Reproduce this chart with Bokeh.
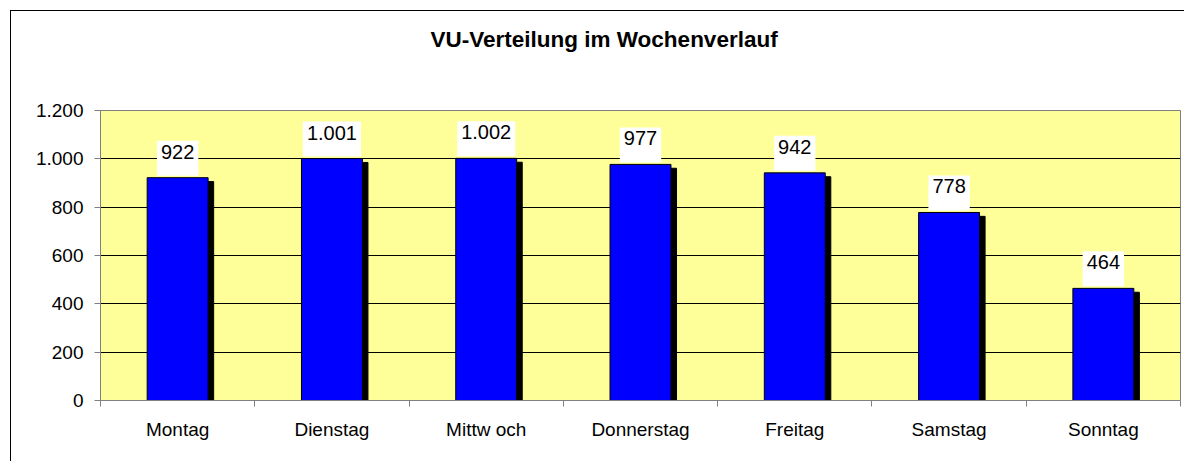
from bokeh.plotting import figure
from bokeh.models import ColumnDataSource, FixedTicker, Label, Range1d, Title, InlineStyleSheet
from bokeh.embed import file_html
from bokeh.resources import INLINE

# ---- data ----
chart_title = "VU-Verteilung im Wochenverlauf"
days = ["Montag", "Dienstag", "Mittw och", "Donnerstag", "Freitag", "Samstag", "Sonntag"]
values = [922, 1001, 1002, 977, 942, 778, 464]
value_labels = ["922", "1.001", "1.002", "977", "942", "778", "464"]
y_ticks = [0, 200, 400, 600, 800, 1000, 1200]
y_tick_labels = ["0", "200", "400", "600", "800", "1.000", "1.200"]

FONT = "Liberation Sans"
BAR_W = 0.395
SH_DX = 0.036   # shadow offset (category units)
SH_DY = 16      # shadow drop (value units)

xs = [i + 0.5 for i in range(len(days))]
src = ColumnDataSource(dict(
    x=xs, v=values, lab=value_labels,
    xsh=[x + SH_DX for x in xs], vsh=[v - SH_DY for v in values],
))

p = figure(width=1184, height=461,
           x_range=Range1d(0, len(days)), y_range=Range1d(y_ticks[0], y_ticks[-1]),
           output_backend="svg", toolbar_location=None,
           min_border_left=100, min_border_right=4, min_border_top=110, min_border_bottom=61)

# outer chart border (top and left edges visible, like the cropped original)
p.stylesheets = [InlineStyleSheet(css=(
    ":host { position: relative; }\n"
    ":host::after { content: ''; position: absolute; left: 10px; top: 10px; right: 0; bottom: 0;"
    " border-left: 1px solid #000; border-top: 1px solid #000; pointer-events: none; z-index: 100; }"
))]
p.border_fill_color = "white"
p.background_fill_color = "#FFFF99"
p.outline_line_color = "#808080"

# title: spacer nearest the frame, then the title text
p.title = None
p.add_layout(Title(text=" ", text_font_size="10px", standoff=41), "above")
p.add_layout(Title(text=chart_title, align="left", offset=330, text_font=FONT,
                   text_font_size="22.5px", text_font_style="bold", text_color="black"), "above")

# bars
p.vbar(x="xsh", top="vsh", width=BAR_W, fill_color="black", line_color="black", source=src)
p.vbar(x="x", top="v", width=BAR_W, fill_color="#0000FF", line_color="black", line_width=1, source=src)

# value labels
for x, v, lab in zip(xs, values, value_labels):
    p.add_layout(Label(x=x, y=v, text=lab, text_align="center", text_baseline="bottom",
                       y_offset=2, text_font=FONT, text_font_size="20px", text_color="black",
                       background_fill_color="white", padding=(4, 4, 4, 17)))

# x axis
p.xaxis.ticker = FixedTicker(ticks=xs, minor_ticks=list(range(len(days) + 1)))
p.xaxis.major_label_overrides = {x: d for x, d in zip(xs, days)}
p.xaxis.major_tick_out = 0
p.xaxis.major_tick_in = 0
p.xaxis.minor_tick_out = 6
p.xaxis.minor_tick_in = 0
p.xaxis.minor_tick_line_color = "#808080"
p.xaxis.axis_line_color = "#808080"
p.xaxis.major_label_standoff = 12
p.xaxis.major_label_text_font = FONT
p.xaxis.major_label_text_font_size = "19px"
p.xaxis.major_label_text_color = "black"
p.xgrid.visible = False

# y axis
p.yaxis.ticker = FixedTicker(ticks=y_ticks)
p.yaxis.major_label_overrides = {t: l for t, l in zip(y_ticks, y_tick_labels)}
p.yaxis.minor_tick_line_color = None
p.yaxis.major_tick_out = 6
p.yaxis.major_tick_in = 0
p.yaxis.major_tick_line_color = "#808080"
p.yaxis.axis_line_color = "#808080"
p.yaxis.major_label_standoff = 11
p.yaxis.major_label_text_font = FONT
p.yaxis.major_label_text_font_size = "19px"
p.yaxis.major_label_text_color = "black"
p.ygrid.ticker = FixedTicker(ticks=y_ticks[1:-1])
p.ygrid.grid_line_color = "black"
p.ygrid.grid_line_alpha = 1.0

open("out.html", "w").write(file_html(p, INLINE))
